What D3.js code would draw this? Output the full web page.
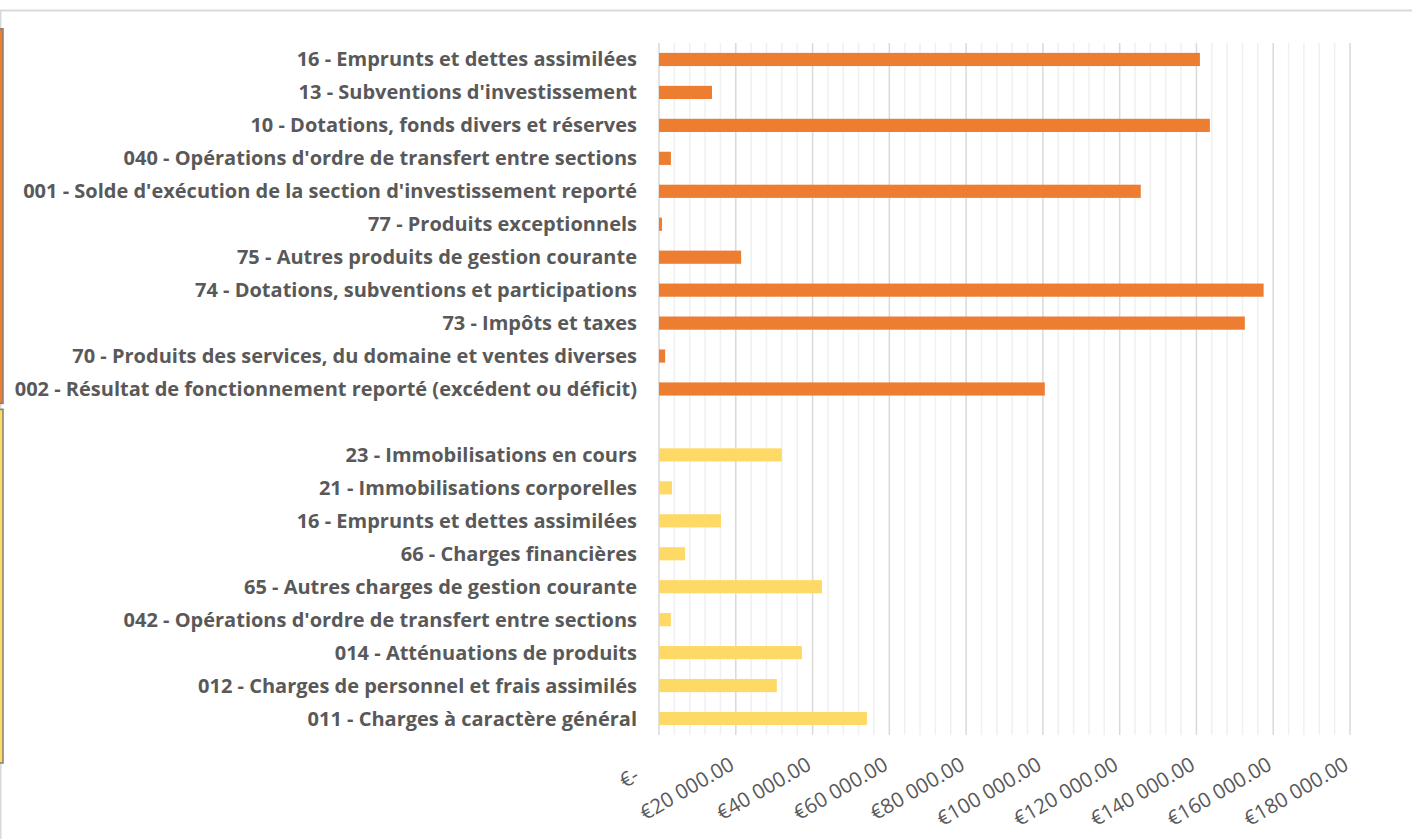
<!DOCTYPE html>
<html>
<head>
<meta charset="utf-8">
<script src="https://cdn.jsdelivr.net/npm/d3@7"></script>
<style>
  body { margin: 0; background: #fff; }
  text { font-family: "Open Sans", Lato, sans-serif; }
</style>
</head>
<body>
<div id="chart"></div>
<script>
// recettes (orange), top to bottom
var recettesLabels = [
  "16 - Emprunts et dettes assimilées",
  "13 - Subventions d'investissement",
  "10 - Dotations, fonds divers et réserves",
  "040 - Opérations d'ordre de transfert entre sections",
  "001 - Solde d'exécution de la section d'investissement reporté",
  "77 - Produits exceptionnels",
  "75 - Autres produits de gestion courante",
  "74 - Dotations, subventions et participations",
  "73 - Impôts et taxes",
  "70 - Produits des services, du domaine et ventes diverses",
  "002 - Résultat de fonctionnement reporté (excédent ou déficit)"
];
var recettesValues = [140900, 13800, 143500, 3100, 125500, 800, 21400, 157500, 152600, 1600, 100500];

// dépenses (yellow), top to bottom
var depensesLabels = [
  "23 - Immobilisations en cours",
  "21 - Immobilisations corporelles",
  "16 - Emprunts et dettes assimilées",
  "66 - Charges financières",
  "65 - Autres charges de gestion courante",
  "042 - Opérations d'ordre de transfert entre sections",
  "014 - Atténuations de produits",
  "012 - Charges de personnel et frais assimilés",
  "011 - Charges à caractère général"
];
var depensesValues = [32000, 3400, 16150, 6800, 42450, 3100, 37250, 30700, 54150];

var tickValues = [0, 20000, 40000, 60000, 80000, 100000, 120000, 140000, 160000, 180000];

var width = 1413, height = 839;
var margin = {top: 43, right: 63, bottom: 104, left: 659};

var svg = d3.select("#chart").append("svg")
  .attr("width", width)
  .attr("height", height);

// chart frame
svg.append("line").attr("x1", 0).attr("x2", 1412).attr("y1", 10.5).attr("y2", 10.5)
  .attr("stroke", "#d9d9d9").attr("stroke-width", 2);
svg.append("line").attr("x1", 0.5).attr("x2", 0.5).attr("y1", 10).attr("y2", height)
  .attr("stroke", "#d9d9d9").attr("stroke-width", 2);

var rows = [];
recettesLabels.forEach((l, i) => rows.push({key: "r" + i, label: l, value: recettesValues[i], group: "r"}));
rows.push({key: "gap", label: "", value: null, group: null});
depensesLabels.forEach((l, i) => rows.push({key: "d" + i, label: l, value: depensesValues[i], group: "d"}));

var x = d3.scaleLinear()
  .domain([0, 180000])
  .range([margin.left, width - margin.right]);

var y = d3.scaleBand()
  .domain(rows.map(d => d.key))
  .range([margin.top, height - margin.bottom])
  .paddingInner(0.6)
  .paddingOuter(0.3);

var step = y.step();

// gridlines: minor every 4000, major every 20000
var minor = d3.range(0, 180001, 4000).filter(v => v % 20000 !== 0);
svg.append("g").selectAll("line").data(minor).join("line")
  .attr("x1", d => x(d)).attr("x2", d => x(d))
  .attr("y1", margin.top).attr("y2", height - margin.bottom)
  .attr("stroke", "#f0f0f0").attr("stroke-width", 1.5);
svg.append("g").selectAll("line").data(tickValues).join("line")
  .attr("x1", d => x(d)).attr("x2", d => x(d))
  .attr("y1", margin.top).attr("y2", height - margin.bottom)
  .attr("stroke", "#d9d9d9").attr("stroke-width", 1.5);

var colors = {r: "#ed7d31", d: "#ffd966"};

// bars
svg.append("g").selectAll("rect")
  .data(rows.filter(d => d.value != null))
  .join("rect")
  .attr("x", x(0))
  .attr("y", d => y(d.key))
  .attr("width", d => x(d.value) - x(0))
  .attr("height", y.bandwidth())
  .attr("fill", d => colors[d.group]);

// category labels
svg.append("g").selectAll("text")
  .data(rows.filter(d => d.label))
  .join("text")
  .attr("x", margin.left - 22)
  .attr("y", d => y(d.key) + y.bandwidth() / 2)
  .attr("dy", "0.35em")
  .attr("text-anchor", "end")
  .attr("font-size", "20px")
  .attr("font-weight", "bold")
  .attr("fill", "#595959")
  .text(d => d.label);

// group strips on the left edge (clipped group labels)
var rTop = y("r0") - step * 0.73, rBot = y("gap") - 12;
var dTop = y("gap") - 6, dBot = y("d8") + step * 1.55;
[[rTop, rBot, colors.r], [dTop, dBot, colors.d]].forEach(function (s) {
  svg.append("rect")
    .attr("x", -2).attr("y", s[0])
    .attr("width", 5).attr("height", s[1] - s[0])
    .attr("fill", s[2])
    .attr("stroke", "#7f7f7f").attr("stroke-width", 1.5);
});

// x axis
var fmt = function (v) {
  if (v === 0) return "€-\u00a0\u00a0\u00a0\u00a0";
  return "€" + d3.format(",.2f")(v).replace(/,/g, " ");
};
var xAxis = svg.append("g")
  .attr("transform", "translate(0," + (height - margin.bottom) + ")")
  .call(d3.axisBottom(x).tickValues(tickValues).tickFormat(fmt).tickSize(0));
xAxis.select(".domain").remove();
xAxis.selectAll("text")
  .attr("font-family", "'Open Sans', sans-serif")
  .attr("font-size", "20.5px")
  .attr("fill", "#595959")
  .style("text-anchor", "end")
  .attr("dx", 0)
  .attr("dy", 0)
  .attr("transform", "translate(-2,31) rotate(-30)");
</script>
</body>
</html>
